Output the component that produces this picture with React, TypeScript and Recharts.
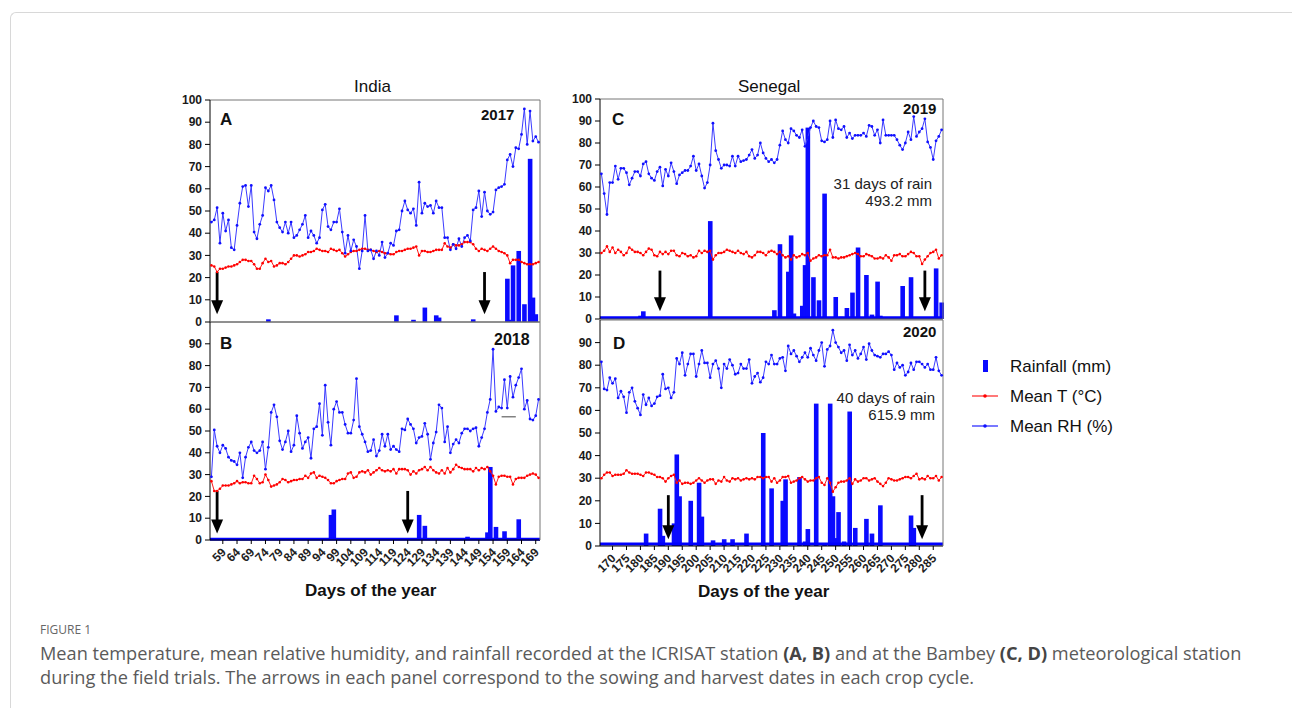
import { Bar, ComposedChart, Line, ReferenceLine, XAxis, YAxis } from "recharts"

const FONT = 'Arial, "Liberation Sans", Helvetica, sans-serif'

// India (ICRISAT), day of year 55..170
const indiaStartDay = 55

const rhA = [
  45, 46, 51.5, 35.5, 49, 41, 46, 33.5, 32.5, 43.5,
  53.5, 61, 61.5, 52, 61.5, 40.5, 37.5, 44, 48, 60.5,
  59, 61.5, 55, 45, 42.5, 40.5, 45, 40, 45, 38,
  39, 41.5, 44, 48, 38, 41, 39, 35.5, 38, 50.5,
  53, 43, 41.5, 45, 45, 51, 40.5, 31, 39, 32,
  37, 34, 24, 32, 48, 32, 32.5, 28.5, 32, 30,
  36, 29, 31, 35.5, 34.5, 41, 41.5, 50, 54.5, 50.5,
  49, 51, 43.5, 63, 49, 53.5, 52, 52.5, 49, 54.5,
  51.5, 51.5, 38, 38, 32.5, 35, 33, 37.5, 34, 38,
  39, 36.5, 50.5, 51.5, 59, 47.5, 58.5, 50, 48.5, 49.5,
  59.5, 60.5, 61, 62, 73, 75.5, 70, 78.5, 78, 84.5,
  96, 80, 95, 81.5, 83.5, 81,
]

const tA = [
  25.5, 25, 22.5, 24, 24, 24.5, 25, 25, 25.5, 26,
  27, 28, 28, 27.5, 27.5, 26, 24, 24, 26.5, 28.5,
  27, 27.5, 25, 25.5, 26.5, 26.5, 26, 27, 28.5, 30,
  30, 29.5, 30, 30.5, 31.5, 31.5, 32, 33, 32.5, 32,
  32, 31.5, 33, 32.5, 32, 32.5, 31, 29.5, 30.5, 31.5,
  32, 32, 32.5, 33, 33, 32.5, 32.5, 32, 31.5, 32,
  31.5, 31, 31, 30.5, 30.5, 31.5, 32, 32, 32.5, 33,
  33, 33.5, 34, 30, 32, 32, 31.5, 31.5, 32, 32.5,
  32.5, 32.5, 35.5, 34, 33.5, 35, 34.5, 34.5, 35, 36,
  36, 36, 35, 33, 32, 33, 32.5, 32, 33, 34,
  33, 32, 31.5, 31, 30, 26.5, 28, 28, 28, 27,
  26.5, 26, 26, 26, 26.5, 27,
]

const rainA: [number, number][] = [
  [75, 1.2], [120, 3], [126, 1], [130, 6.5], [134, 3], [135, 2], [147, 1.2],
  [159, 19.5], [160, 1], [161, 25.5], [163, 32], [165, 8], [167, 73.5], [168, 11], [169, 3.5],
]

const rhB = [
  29, 50.5, 43, 40, 43.5, 42, 38, 36.5, 36, 34.5,
  40, 28.5, 38, 42.5, 45, 41, 40, 41, 45, 32.5,
  42.5, 58.5, 62, 56.5, 45.5, 41.5, 45, 50, 40.5, 43.5,
  57, 49, 42, 45, 47, 37.5, 51, 52, 62.5, 48,
  71, 54, 43.5, 60, 63.5, 58.5, 58.5, 53, 49, 49,
  55, 74, 52, 48.5, 45, 40.5, 41, 46, 38.5, 41,
  48.5, 43, 48.5, 41.5, 43, 41.5, 40.5, 51, 50.5, 55.5,
  53, 51, 44.5, 47, 47.5, 53.5, 48.5, 37, 44.5, 49.5,
  62, 60.5, 45, 52, 40, 44, 46, 44.5, 49, 51,
  51, 50, 51, 51.5, 43, 47, 51, 58.5, 64.5, 87.5,
  59, 61, 60.5, 73.5, 60.5, 75, 65.5, 71, 74.5, 78.5,
  60, 64, 55.5, 55, 57, 64.5,
]

const tB = [
  27, 22.5, 22.5, 23.5, 25, 25, 25, 25.5, 26, 27,
  26, 26.5, 26.5, 26, 26, 29.5, 28, 26, 26.5, 30,
  27.5, 24.5, 25, 25.5, 26.5, 28, 27.5, 26.5, 27, 27.5,
  27.5, 28, 28, 29.5, 28.5, 30.5, 31, 28.5, 29.5, 29,
  28.5, 27.5, 26, 26, 27, 27.5, 28, 28, 30.5, 31,
  28.5, 29, 31, 31.5, 31, 32, 30, 31, 32, 33,
  32, 31.5, 32, 31.5, 32.5, 30.5, 32.5, 32.5, 32.5, 32,
  30, 31.5, 30.5, 32, 32.5, 33.5, 32, 33.5, 32, 31,
  30.5, 32, 30.5, 33, 31, 32.5, 34.5, 33.5, 33, 32.5,
  32.5, 32.5, 31.5, 33, 32, 33, 32.5, 33.5, 31.5, 29.5,
  25.5, 29, 29.5, 29.5, 29, 29, 25.5, 28, 28.5, 28.5,
  28.5, 29.5, 30, 30.5, 30, 28.5,
]

const rainB: [number, number][] = [
  [97, 11.5], [98, 14], [128, 11.5], [130, 6.5], [145, 1.5],
  [152, 3.5], [153, 33.5], [155, 6], [158, 4], [163, 9.5],
]

// Senegal (Bambey), day of year 166..288
const senegalStartDay = 166

const rhC = [
  66, 57, 47.5, 62, 62, 69.5, 63.5, 68.5, 68.5, 66.5,
  61, 64, 67, 67, 65, 70.5, 71.5, 66, 64, 63,
  67, 69, 60.5, 68, 65, 71, 67, 61.5, 65.5, 66.5,
  67.5, 67.5, 69.5, 74, 67.5, 70.5, 65, 59.5, 62, 70,
  89, 76.5, 72.5, 68.5, 70, 70, 69.5, 74, 69.5, 74,
  71.5, 72, 72.5, 74.5, 77, 73, 74.5, 80, 75.5, 73,
  71.5, 72.5, 71, 72.5, 79, 85.5, 81.5, 80, 86.5, 85.5,
  83.5, 82.5, 86, 78.5, 82.5, 87, 90, 87.5, 87, 81,
  80.5, 81.5, 90, 82.5, 90.5, 86.5, 86, 87.5, 82.5, 84.5,
  82, 83.5, 83.5, 83.5, 84.5, 83, 88, 87.5, 83.5, 86,
  80, 90.5, 83.5, 83.5, 83.5, 83.5, 81.5, 79, 77, 80,
  85, 81.5, 92, 83, 85, 86.5, 91, 80.5, 78, 72.5,
  81, 83, 86,
]

const tC = [
  30, 31, 33, 30.5, 32.5, 30, 31.5, 30.5, 29, 30,
  32.5, 31.5, 30.5, 30.5, 30, 29, 30.5, 32, 31.5, 29,
  28.5, 30.5, 29.5, 30.5, 29.5, 31, 31, 29, 28.5, 30,
  29.5, 28.5, 29, 28, 28.5, 31, 30, 31, 30.5, 31,
  27, 29, 30, 30, 30.5, 31.5, 31, 30.5, 30, 31,
  30, 29.5, 30.5, 28.5, 28, 29, 30.5, 30.5, 30, 29,
  30.5, 31, 30.5, 29.5, 30.5, 29, 28, 28.5, 27, 29,
  28, 28.5, 29.5, 29, 30, 26.5, 27.5, 28, 29, 28.5,
  29, 29, 31.5, 28, 28, 27.5, 28, 28, 28.5, 29,
  29.5, 30, 29.5, 28.5, 28.5, 29.5, 29, 28.5, 27.5, 27.5,
  28, 27.5, 29, 28, 26.5, 29, 29, 29.5, 28.5, 28.5,
  29.5, 30.5, 30, 28.5, 28.5, 25, 27, 28.5, 30, 30.5,
  31.5, 27.5, 29,
]

const rainC: [number, number][] = [
  [180, 1.5], [181, 3.5], [205, 44.5], [228, 4], [230, 34], [233, 21.5], [234, 38],
  [235, 2.5], [238, 6], [239, 24.5], [240, 87], [242, 19], [244, 8.5], [246, 57], [250, 10],
  [252, 1], [254, 5], [256, 12], [258, 32.5], [261, 20], [263, 2], [265, 17], [266, 1.5],
  [274, 15], [277, 19], [286, 23], [288, 7.5],
]

const rhD = [
  81.5, 69.5, 69, 74.5, 72, 74, 65.5, 68.5, 66, 59,
  68, 70, 64, 61, 58, 67, 62.5, 65.5, 62, 63,
  66, 66.5, 76, 69.5, 70, 65.5, 68, 83, 80.5, 85.5,
  75.5, 80.5, 85, 85, 75, 80.5, 86.5, 81, 81, 74.5,
  80.5, 82, 78.5, 70, 80.5, 78.5, 82.5, 80, 76, 76.5,
  80.5, 78.5, 78.5, 82.5, 72, 75, 76.5, 72.5, 74.5, 81.5,
  80.5, 84.5, 80.5, 80.5, 83, 83.5, 77.5, 88.5, 85, 86.5,
  84, 81.5, 83.5, 85.5, 83.5, 87.5, 84.5, 82, 86.5, 90,
  79.5, 87, 88.5, 95.5, 90, 88, 85.5, 86.5, 82, 89,
  84.5, 86.5, 83, 85, 88, 82.5, 89.5, 86.5, 84.5, 84,
  83.5, 85, 85, 86, 84.5, 78, 81, 79, 80, 75.5,
  77, 81, 78, 81.5, 81.5, 80.5, 79, 80.5, 78, 78,
  83.5, 77.5, 75.5,
]

const tD = [
  30, 31.5, 32.5, 32.5, 31, 31.5, 31.5, 31.5, 32, 33.5,
  32.5, 32, 32, 32, 31.5, 31, 32.5, 32.5, 32, 31.5,
  30.5, 30.5, 30, 28.5, 30, 31, 31.5, 28, 29, 27.5,
  28, 28, 27.5, 28, 29, 30, 29, 28, 29, 29.5,
  29.5, 27.5, 29, 28.5, 30.5, 29, 28.5, 30, 29.5, 30,
  29, 29.5, 30, 29.5, 30, 29.5, 30.5, 30.5, 30, 30.5,
  30.5, 28.5, 30, 28, 29, 30.5, 30.5, 31, 28, 28.5,
  29, 30, 30.5, 29.5, 28.5, 29, 29, 30, 30.5, 28,
  27, 30, 28, 24, 26, 28, 28.5, 28.5, 29, 30,
  27.5, 29.5, 28.5, 29, 30, 30, 29, 29.5, 30, 28.5,
  27.5, 26.5, 28, 30, 29.5, 29, 29, 29.5, 30, 30.5,
  30.5, 30, 31, 32, 29.5, 30, 29.5, 31, 30, 30,
  31, 29, 30.5,
]

const rainD: [number, number][] = [
  [182, 5.5], [187, 16.5], [188, 4.5], [192, 10], [193, 40.5], [194, 22], [198, 20], [201, 28],
  [202, 13], [206, 2.5], [210, 3], [213, 3], [218, 5.5], [224, 50], [227, 25.5], [231, 20],
  [232, 29.5], [237, 30.5], [239, 2], [240, 7.5], [243, 63], [246, 1], [248, 63],
  [249, 22], [250, 3.5], [251, 15], [253, 2], [255, 59.5], [257, 8], [261, 12], [263, 5.5],
  [266, 18], [277, 13.5], [278, 8],
]

// sowing / harvest arrows (day of year)
const arrowsA = [57, 151]
const arrowsB = [57, 124]
const arrowsC = [187, 282]
const arrowsD = [190, 281]

const indiaTicks = [59, 64, 69, 74, 79, 84, 89, 94, 99, 104, 109, 114, 119, 124, 129, 134, 139, 144, 149, 154, 159, 164, 169]
const senegalTicks = [170, 175, 180, 185, 190, 195, 200, 205, 210, 215, 220, 225, 230, 235, 240, 245, 250, 255, 260, 265, 270, 275, 280, 285]
const yTicksTop = [0, 10, 20, 30, 40, 50, 60, 70, 80, 90, 100]
const yTicksBottom = [0, 10, 20, 30, 40, 50, 60, 70, 80, 90]

type Row = { day: number; rh: number; t: number; rain: number }

function buildRows(start: number, rh: number[], t: number[], rain: [number, number][]): Row[] {
  const byDay = new Map(rain)
  return rh.map((v, i) => ({ day: start + i, rh: v, t: t[i], rain: byDay.get(start + i) ?? 0 }))
}

const BAR_W = 4.6

// rainfall bars are drawn wider than one day's band, as in the source figure
const WideBar = (props: any) => {
  const { x, y, width, height } = props
  if (!height || height <= 0) return <g />
  return <rect x={x + width / 2 - BAR_W / 2} y={y} width={BAR_W} height={height} fill="#0a0aff" />
}

const Arrow = (props: any) => {
  const { x1, y1, x2, y2 } = props
  const head = 14
  return (
    <g>
      <line x1={x1} y1={y1} x2={x2} y2={y2 - head + 1} stroke="#000" strokeWidth={2.8} />
      <polygon points={`${x2 - 6},${y2 - head} ${x2 + 6},${y2 - head} ${x2},${y2}`} fill="#000" />
    </g>
  )
}

const RotTick = (props: any) => {
  const { x, y, payload } = props
  const ax = x + 4
  const ay = y + 7
  return (
    <text
      x={ax}
      y={ay}
      textAnchor="end"
      transform={`rotate(-45 ${ax} ${ay})`}
      fontSize={12}
      fontWeight={700}
      fill="#222"
      fontFamily={FONT}
    >
      {payload.value}
    </text>
  )
}

type PanelProps = {
  left: number
  top: number
  width: number
  height: number
  rows: Row[]
  yTicks: number[]
  xTicks?: number[]
  arrows: number[]
  arrowTop: number
  arrowTip: number
  baseline?: number
  dash?: { from: number; to: number; y: number }
}

function Panel({ left, top, width, height, rows, yTicks, xTicks, arrows, arrowTop, arrowTip, baseline, dash }: PanelProps) {
  return (
    <div style={{ position: "absolute", left, top }}>
      <ComposedChart
        width={width}
        height={height}
        data={rows}
        margin={{ top: 8, right: 10, bottom: xTicks ? 5 : 9, left: 0 }}
        barCategoryGap={0}
        barGap={0}
      >
        {xTicks ? (
          <XAxis
            dataKey="day"
            ticks={xTicks}
            interval={0}
            height={45}
            tickSize={4}
            tickMargin={2}
            axisLine={{ stroke: "#000" }}
            tickLine={{ stroke: "#000" }}
            tick={<RotTick />}
          />
        ) : (
          <XAxis dataKey="day" height={1} tick={false} tickLine={false} axisLine={{ stroke: "#555" }} />
        )}
        <XAxis xAxisId="top" dataKey="day" orientation="top" mirror tick={false} tickLine={false} axisLine={{ stroke: "#777" }} />
        <YAxis
          domain={[0, 100]}
          ticks={yTicks}
          interval={0}
          width={60}
          tickSize={5}
          tickMargin={3}
          axisLine={{ stroke: "#000" }}
          tickLine={{ stroke: "#000" }}
          tick={{ fontSize: 12, fontWeight: 700, fill: "#1a1a1a", fontFamily: FONT }}
          allowDataOverflow
        />
        <YAxis yAxisId="right" orientation="right" mirror domain={[0, 100]} tick={false} tickLine={false} axisLine={{ stroke: "#777" }} />
        {baseline !== undefined && (
          <ReferenceLine y={baseline} stroke="#0000ff" strokeWidth={3} ifOverflow="visible" />
        )}
        <Line
          dataKey="t"
          stroke="#ff1a1a"
          strokeWidth={1}
          dot={{ r: 1.3, fill: "#ff0000", stroke: "none" }}
          activeDot={false}
          isAnimationActive={false}
        />
        <Line
          dataKey="rh"
          stroke="#3b3bff"
          strokeWidth={1}
          dot={{ r: 1.4, fill: "#1010ff", stroke: "none" }}
          activeDot={false}
          isAnimationActive={false}
        />
        <Bar dataKey="rain" fill="#0a0aff" shape={WideBar} isAnimationActive={false} />
        {dash && (
          <ReferenceLine
            segment={[{ x: dash.from, y: dash.y }, { x: dash.to, y: dash.y }]}
            stroke="#444"
            strokeWidth={1}
          />
        )}
        {arrows.map((d) => (
          <ReferenceLine
            key={d}
            segment={[{ x: d, y: arrowTop }, { x: d, y: arrowTip }]}
            shape={Arrow}
            ifOverflow="visible"
          />
        ))}
      </ComposedChart>
    </div>
  )
}

const abs = (left: number, top: number, extra: React.CSSProperties = {}): React.CSSProperties => ({
  position: "absolute",
  left,
  top,
  fontFamily: FONT,
  whiteSpace: "nowrap",
  lineHeight: 1,
  color: "#111",
  ...extra,
})

export default function App() {
  const rowsA = buildRows(indiaStartDay, rhA, tA, rainA)
  const rowsB = buildRows(indiaStartDay, rhB, tB, rainB)
  const rowsC = buildRows(senegalStartDay, rhC, tC, rainC)
  const rowsD = buildRows(senegalStartDay, rhD, tD, rainD)

  return (
    <div style={{ position: "absolute", left: 0, top: 0, width: 1292, height: 708, background: "#fff", overflow: "hidden" }}>
      <div
        style={{
          position: "absolute",
          left: 10,
          top: 12,
          width: 1300,
          height: 720,
          borderTop: "1px solid #d8d8d8",
          borderLeft: "1px solid #d8d8d8",
          borderTopLeftRadius: 6,
        }}
      />

      <div style={abs(354, 78, { fontSize: 17 })}>India</div>
      <div style={abs(738, 78, { fontSize: 17 })}>Senegal</div>

      <Panel left={150} top={92} width={400} height={240} rows={rowsA} yTicks={yTicksTop}
        arrows={arrowsA} arrowTop={22.5} arrowTip={3.5} />
      <Panel left={150} top={314} width={400} height={276} rows={rowsB} yTicks={yTicksBottom} xTicks={indiaTicks}
        arrows={arrowsB} arrowTop={22.5} arrowTip={3} baseline={0.3} dash={{ from: 157, to: 162, y: 56.5 }} />
      <Panel left={540} top={91} width={413} height={238} rows={rowsC} yTicks={yTicksTop}
        arrows={arrowsC} arrowTop={22} arrowTip={3.5} baseline={0.6} />
      <Panel left={540} top={312} width={413} height={284} rows={rowsD} yTicks={yTicksBottom} xTicks={senegalTicks}
        arrows={arrowsD} arrowTop={22.5} arrowTip={3} baseline={0.9} />

      <div style={abs(220, 111, { fontSize: 17, fontWeight: 700 })}>A</div>
      <div style={abs(481, 107, { fontSize: 15, fontWeight: 700 })}>2017</div>
      <div style={abs(220, 335, { fontSize: 17, fontWeight: 700 })}>B</div>
      <div style={abs(494, 332, { fontSize: 16, fontWeight: 700 })}>2018</div>
      <div style={abs(612, 111, { fontSize: 17, fontWeight: 700 })}>C</div>
      <div style={abs(903, 101, { fontSize: 15, fontWeight: 700 })}>2019</div>
      <div style={abs(613, 335, { fontSize: 17, fontWeight: 700 })}>D</div>
      <div style={abs(903, 324, { fontSize: 15, fontWeight: 700 })}>2020</div>

      <div style={abs(800, 175, { fontSize: 15, width: 132, textAlign: "right", lineHeight: "17px", color: "#222" })}>
        31 days of rain
        <br />
        493.2 mm
      </div>
      <div style={abs(800, 389, { fontSize: 15, width: 135, textAlign: "right", lineHeight: "17px", color: "#222" })}>
        40 days of rain
        <br />
        615.9 mm
      </div>

      <div style={abs(305, 582, { fontSize: 17, fontWeight: 700 })}>Days of the year</div>
      <div style={abs(698, 583, { fontSize: 17, fontWeight: 700 })}>Days of the year</div>

      {/* legend */}
      <div style={{ position: "absolute", left: 983, top: 360, width: 5, height: 12, background: "#0a0aff" }} />
      <div style={abs(1010, 358, { fontSize: 17 })}>Rainfall (mm)</div>
      <svg style={{ position: "absolute", left: 970, top: 390 }} width={30} height={12}>
        <line x1={2} y1={6} x2={28} y2={6} stroke="#ff4d4d" strokeWidth={1.5} />
        <circle cx={15} cy={6} r={1.8} fill="#ff0000" />
      </svg>
      <div style={abs(1010, 388, { fontSize: 17 })}>Mean T (°C)</div>
      <svg style={{ position: "absolute", left: 970, top: 420 }} width={30} height={12}>
        <line x1={2} y1={6} x2={28} y2={6} stroke="#4d4dff" strokeWidth={1.5} />
        <circle cx={15} cy={6} r={1.8} fill="#1010ff" />
      </svg>
      <div style={abs(1010, 418, { fontSize: 17 })}>Mean RH (%)</div>

      {/* caption */}
      <div style={{ position: "absolute", left: 40, top: 621, fontFamily: '"Open Sans", sans-serif', fontSize: 12, color: "#666" }}>
        FIGURE 1
      </div>
      <div
        style={{
          position: "absolute",
          left: 40,
          top: 641,
          width: 1250,
          fontFamily: '"Open Sans", sans-serif',
          fontSize: 18.2,
          lineHeight: "24px",
          color: "#5a5a5a",
          whiteSpace: "nowrap",
        }}
      >
        Mean temperature, mean relative humidity, and rainfall recorded at the ICRISAT station{" "}
        <b style={{ color: "#444" }}>(A, B)</b> and at the Bambey <b style={{ color: "#444" }}>(C, D)</b> meteorological station
        <br />
        during the field trials. The arrows in each panel correspond to the sowing and harvest dates in each crop cycle.
      </div>
    </div>
  )
}
